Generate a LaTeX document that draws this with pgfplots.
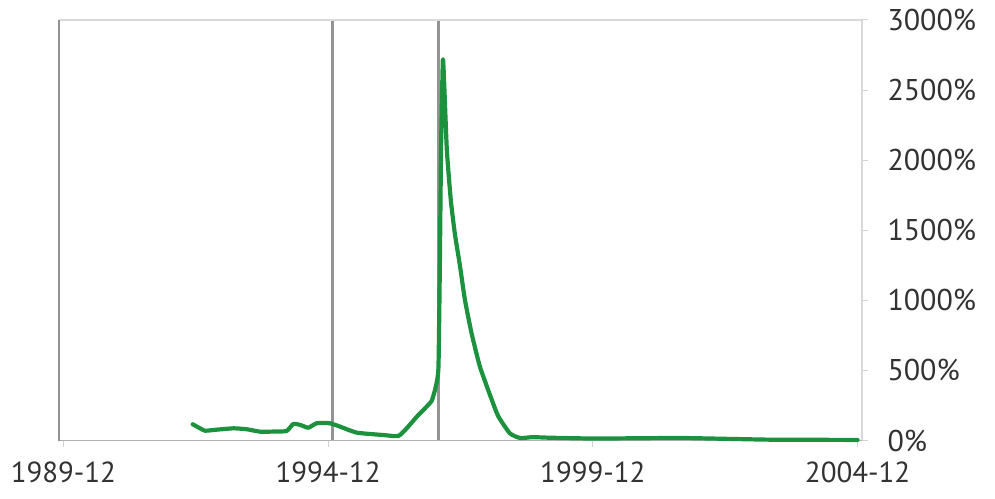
\documentclass[border=0pt]{standalone}
\usepackage{pgfplots}
\pgfplotsset{compat=1.18}
\usepackage{fontspec}
\setmainfont{PT Sans}
\definecolor{lineg}{RGB}{28,146,62}
\definecolor{txt}{RGB}{50,50,50}
\begin{document}
\begin{tikzpicture}
\begin{axis}[
  at={(0,0)}, anchor=south west,
  scale only axis, width=803pt, height=420.5pt,
  xmin=-1, xmax=181, ymin=0, ymax=3000,
  axis line style={draw=none},
  xtick={0,60,120,180},
  xticklabels={1989-12,1994-12,1999-12,2004-12},
  xtick pos=lower, xticklabel pos=lower,
  ytick={0,500,1000,1500,2000,2500,3000},
  yticklabel={\pgfmathprintnumber{\tick}\%},
  ytick pos=right, yticklabel pos=right,
  /pgf/number format/1000 sep={},
  /pgf/number format/assume math mode=true,
  tick align=outside,
  major tick length=6pt,
  tick style={draw=gray!35, line width=1pt},
  ticklabel style={font=\fontsize{30}{32}\selectfont, text=txt},
  xticklabel style={yshift=-12pt, font=\fontsize{29}{32}\selectfont},
  yticklabel style={xshift=16pt},
  extra x ticks={61,85},
  extra x tick labels={},
  extra x tick style={major tick length=0pt, grid=major,
    major grid style={draw=gray!85, line width=2.6pt}},
  clip=false,
]
\draw[gray!30, line width=1.3pt] (rel axis cs:0,1) -- (rel axis cs:1,1);
\draw[gray!30, line width=1.3pt] (rel axis cs:1,0) -- (rel axis cs:1,1);
\draw[gray!60, line width=1.8pt] (rel axis cs:0,0) -- (rel axis cs:1,0);
\draw[gray!85, line width=2.6pt] (rel axis cs:0,0) -- (rel axis cs:0,1);
\addplot[lineg, line width=4.2pt, line join=round, line cap=round, smooth, tension=0.3] coordinates {
(29.3,116) (30.5,95) (32.1,70) (35,78) (38.6,87) (41.6,80) (44.6,63) (48,64)
(50.6,68) (52.1,118) (53.7,111) (55.5,91) (57.4,123) (60.4,123) (62.7,99)
(66.5,56) (72.5,39) (75.9,32) (77.8,87) (80.1,170) (82.3,241) (83.5,285)
(84.4,384) (85.0,520) (85.3,1200) (85.6,2100) (86.0,2714) (86.3,2550)
(86.9,2075) (87.8,1716) (88.7,1480) (89.9,1242) (91.0,1004) (92.5,766)
(94.4,527) (97.1,289) (98.6,170) (101.2,51) (103.5,18)
(106.4,24) (110,20) (120,14) (130,16) (140,18) (150,12) (160,6) (170,5) (180,4)
};
\end{axis}
\pgfresetboundingbox
\path (-59pt,-57.5pt) rectangle (936pt,440.5pt);
\end{tikzpicture}
\end{document}
